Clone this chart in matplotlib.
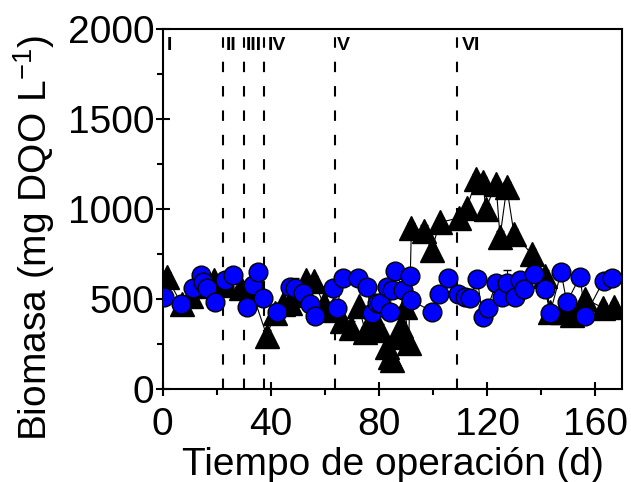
import matplotlib
matplotlib.use("Agg")
import matplotlib.pyplot as plt
from matplotlib.ticker import MultipleLocator

plt.rcParams['font.family'] = ['Liberation Sans', 'DejaVu Sans']
plt.rcParams['mathtext.fontset'] = 'custom'
plt.rcParams['mathtext.rm'] = 'Liberation Sans'
plt.rcParams['mathtext.it'] = 'Liberation Sans'

# Triangle series (black)
tri_day = [1.5, 7, 10.5, 14, 19, 23.5, 29, 33, 38.5, 41.5, 44.5, 47, 50, 53, 56, 59.5,
           63, 66.5, 69.5, 72.5, 75, 78, 80.5, 83, 84, 85, 86.5, 88, 89.5, 91, 92, 96.5,
           99.5, 102.5, 109.5, 112.5, 116, 118.5, 119.5, 123.3, 124.8, 127.3, 130, 136.5,
           141.5, 143.3, 147.7, 149.5, 151.4, 156.3, 163, 166.8]
tri_val = [620, 470, 515, 570, 605, 575, 560, 540, 295, 420, 470, 480, 520, 605, 600, 470,
           440, 375, 340, 460, 315, 385, 330, 235, 180, 160, 290, 350, 457, 255, 895, 880,
           770, 925, 950, 1005, 1165, 1150, 1000, 1140, 846, 1120, 860, 750,
           630, 430, 430, 440, 411, 500, 450, 457]
tri_err = [30, 30, 25, 25, 25, 25, 30, 25, 30, 30, 25, 25, 25, 25, 25, 25,
           25, 30, 35, 25, 30, 25, 30, 30, 25, 25, 25, 30, 25, 25, 25, 30,
           30, 25, 25, 25, 30, 30, 25, 25, 30, 30, 30, 25,
           30, 25, 30, 25, 25, 30, 30, 25]

# Circle series (blue)
cir_day = [0.5, 6.9, 11.2, 14.3, 14.9, 16.2, 19.3, 23, 26, 31.2, 33.5, 35.3, 37.1, 42.1,
           47, 48.9, 52, 54.4, 56.3, 63.1, 64.3, 66.8, 72.3, 75.4, 77.3, 79.1, 80.4, 82.8,
           84.1, 84.7, 85.9, 89, 91.5, 91.9, 99.5, 102.3, 105.4, 109.4, 111.9, 113.7,
           116.4, 118.4, 120.2, 123.3, 125.4, 127.3, 130.4, 132.2, 133.5, 137.4, 141.5,
           143.3, 147.4, 149.5, 154.4, 156.3, 163.1, 166.4]
cir_val = [510, 472, 559, 633, 596, 559, 485, 605, 633, 457, 578, 652, 504, 430,
           568, 559, 531, 472, 405, 559, 448, 615, 615, 568, 420, 476, 476, 568,
           430, 550, 655, 550, 628, 494, 430, 528, 615, 528, 513, 504,
           609, 402, 448, 587, 513, 587, 513, 605, 554, 639, 554,
           420, 648, 481, 624, 407, 602, 615]
cir_err = [30, 30, 30, 30, 25, 30, 30, 30, 25, 35, 30, 30, 40, 30,
           30, 60, 30, 30, 30, 30, 30, 25, 25, 30, 30, 35, 30, 30,
           30, 30, 30, 30, 30, 25, 25, 30, 25, 30, 30, 30,
           25, 30, 30, 30, 30, 75, 30, 30, 30, 30, 30,
           35, 30, 30, 30, 30, 30, 30]

phase_day = [22.3, 30.1, 37.5, 63.8, 109]
phase_lbl = ['I', 'II', 'III', 'IV', 'V', 'VI']
phase_lbl_x = [1.5, 23.2, 30.8, 39.0, 64.3, 110.5]

fig = plt.figure(figsize=(6.31, 4.82), dpi=100)
ax = fig.add_axes([0.258, 0.193, 0.728, 0.747])

for d in phase_day:
    ax.axvline(d, color='black', lw=1.5, linestyle=(0, (5, 6.7)), zorder=1)

ax.errorbar(tri_day, tri_val, yerr=tri_err, fmt='^', color='black', ms=17,
            mec='black', mfc='black', ecolor='black', elinewidth=0.8, capsize=3,
            lw=0.8, ls='-', zorder=2)
ax.errorbar(cir_day, cir_val, yerr=cir_err, fmt='o', color='black', ms=13.5,
            mec='black', mfc='#0000ff', mew=1.0, ecolor='black', elinewidth=0.8,
            capsize=3, lw=0.8, ls='-', zorder=3)

for lx, t in zip(phase_lbl_x, phase_lbl):
    ax.text(lx, 1955, t, fontsize=14, fontweight='bold', ha='left', va='top',
            zorder=5)

ax.set_xlim(0, 170)
ax.set_ylim(0, 2000)
ax.xaxis.set_major_locator(MultipleLocator(40))
ax.xaxis.set_minor_locator(MultipleLocator(20))
ax.yaxis.set_major_locator(MultipleLocator(500))
ax.yaxis.set_minor_locator(MultipleLocator(250))
ax.tick_params(which='major', direction='inout', length=10, width=1.5, labelsize=28,
               pad=1)
ax.tick_params(axis='x', which='major', pad=8)
ax.tick_params(which='minor', direction='out', length=4, width=1.5)
for s in ax.spines.values():
    s.set_linewidth(1.5)

ax.set_xlabel('Tiempo de operación (d)', fontsize=28, labelpad=3)
ax.set_ylabel('Biomasa (mg DQO L$^{\\mathregular{-1}}$)', fontsize=28)
ax.yaxis.set_label_coords(-0.231, 0.42)

fig.savefig('out.png', dpi=100)
